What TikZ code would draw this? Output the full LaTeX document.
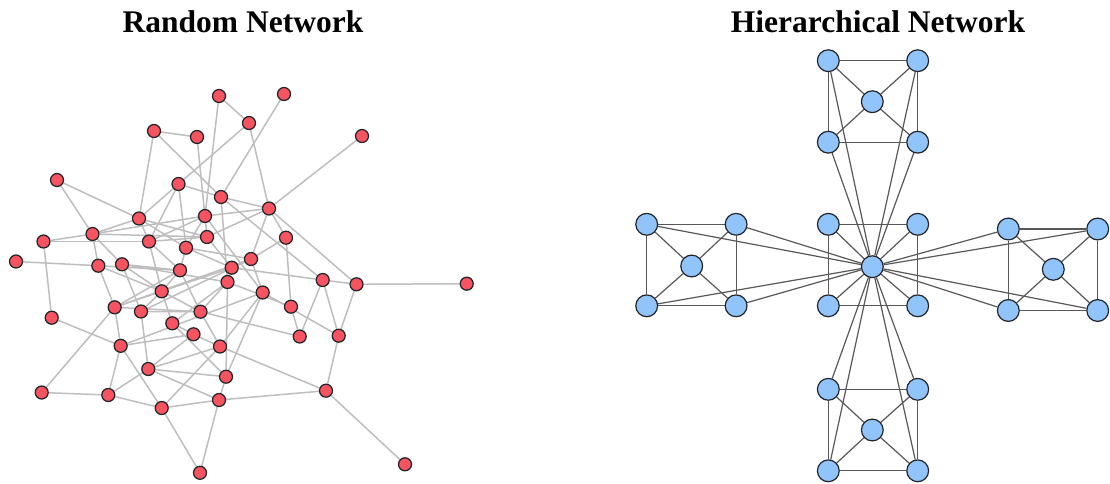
\documentclass[tikz,border=0pt]{standalone}
\usepackage{fontspec}
\setmainfont{Liberation Serif}
\usetikzlibrary{backgrounds}
\definecolor{rfill}{RGB}{245,84,96}
\definecolor{bfill}{RGB}{144,196,250}
\definecolor{redge}{RGB}{190,190,190}
\definecolor{hedge}{RGB}{88,88,88}
\definecolor{nborder}{RGB}{34,36,42}
\begin{document}
\begin{tikzpicture}[x=1pt,y=-1pt,
  rnode/.style={circle,draw=nborder,fill=rfill,line width=1.25pt,minimum size=13pt,inner sep=0pt},
  hnode/.style={circle,draw=nborder,fill=bfill,line width=1.2pt,minimum size=21.8pt,inner sep=0pt},
  rlink/.style={draw=redge,line width=1.5pt},
  hlink/.style={draw=hedge,line width=1.2pt},
  title/.style={font=\fontsize{31.5}{36}\selectfont\bfseries,anchor=base,inner sep=0pt}]
\useasboundingbox (0,0) rectangle (1110,483);

% titles
\node[title] (ttlR) at (243,32) {Random Network};
\node[title] (ttlH) at (878,32) {Hierarchical Network};

% ---------- random network: nodes ----------
\foreach \n/\x/\y in {
  1/219/96, 2/284/94, 3/249/123, 4/154/131, 5/197/137, 6/362/136,
  7/57/180, 8/178.5/184, 9/221/197, 10/269/208.5, 11/139/218.5, 12/205/216,
  13/43.5/241.5, 14/92.5/234, 15/149/241.5, 16/186/247.7, 17/207/237, 18/286/237.7,
  19/16/261.5, 20/98.3/265.7, 21/122/264.3, 22/180/270.3, 23/231.7/267.7, 24/251/259,
  25/227.5/282, 26/322.7/280, 27/356.5/284.3, 28/466.7/283.7, 29/161.7/291.3, 30/114.7/307.3,
  31/141/311.5, 32/262.7/292.5, 33/291/306.7, 34/200.5/311.7, 35/51.7/317.7, 36/172.3/323.3,
  37/193.5/334.3, 38/299.7/336.5, 39/338.7/335.7, 40/120.7/345.8, 41/220/346.5, 42/148.3/369,
  43/226/376.7, 44/41.7/392.5, 45/108.3/395, 46/161.7/408, 47/219/400, 48/326/390.7,
  49/200/472.8, 50/405/464.3}
  \node[rnode] (r\n) at (\x,\y) {};

% ---------- random network: links ----------
\begin{scope}[on background layer]
\foreach \a/\b in {
  1/3, 1/12, 2/9, 3/8, 3/10, 4/5, 4/11, 4/9, 5/17, 6/10,
  7/14, 7/11, 8/11, 8/9, 8/16, 8/15, 9/10, 9/25, 9/26, 10/12,
  10/17, 10/18, 10/24, 10/27, 11/15, 11/16, 11/14, 13/14, 13/35, 14/20,
  14/21, 14/12, 15/12, 15/29, 15/17, 12/16, 16/22, 16/24, 18/24, 18/33,
  19/20, 21/22, 21/29, 23/24, 23/26, 23/25, 25/33, 25/43, 25/34, 22/29,
  26/27, 27/28, 26/38, 26/39, 27/39, 39/48, 48/50, 48/47, 48/41, 33/38,
  32/43, 32/39, 32/41, 34/38, 44/45, 44/30, 45/46, 45/42, 45/40, 46/47,
  46/49, 47/49, 46/40, 42/43, 42/47, 46/41, 35/40, 31/42, 20/29, 20/30,
  21/31, 36/37, 40/37, 29/30, 29/31, 30/34, 30/40, 37/41, 36/29, 30/22,
  31/24, 29/23, 42/41, 42/37, 43/47, 12/32, 17/23, 22/34, 24/32, 36/25,
  20/22, 21/25, 30/24, 13/15, 14/17, 31/34, 34/41, 36/43, 40/32, 11/17,
  29/34, 16/23, 15/22}
  \draw[rlink] (r\a) -- (r\b);
\end{scope}

% ---------- hierarchical network: nodes ----------
% central module (its centre is the hub)
\node[hnode] (hub) at (872.3,266.7) {};
\foreach \m/\x/\y in {
  c/828.3/224.3,
  t/828.3/60.7,
  b/828.3/389.3,
  l/646.7/224.3,
  r/1008.3/229}
{
  \pgfmathsetmacro{\xr}{\x+89.4}
  \pgfmathsetmacro{\yb}{\y+81.5}
  \node[hnode] (\m TL) at (\x,\y) {};
  \node[hnode] (\m TR) at (\xr,\y) {};
  \node[hnode] (\m BL) at (\x,\yb) {};
  \node[hnode] (\m BR) at (\xr,\yb) {};
}
\node[hnode] (tC) at (872.3,101.7) {};
\node[hnode] (bC) at (872.3,430) {};
\node[hnode] (lC) at (691.7,266) {};
\node[hnode] (rC) at (1053.3,269.3) {};

% ---------- hierarchical network: links ----------
\begin{scope}[on background layer]
% square of each module
\foreach \m in {c,t,b,l,r}{
  \draw[hlink] (\m TL) -- (\m TR) -- (\m BR) -- (\m BL) -- (\m TL);
}
% module centres to their corners
\foreach \m/\k in {c/hub,t/tC,b/bC,l/lC,r/rC}{
  \foreach \p in {TL,TR,BL,BR}
    \draw[hlink] (\k) -- (\m\p);
}
% outer corners to the hub
\foreach \m in {t,b,l,r}{
  \foreach \p in {TL,TR,BL,BR}
    \draw[hlink] (hub) -- (\m\p);
}
\end{scope}
\end{tikzpicture}
\end{document}
